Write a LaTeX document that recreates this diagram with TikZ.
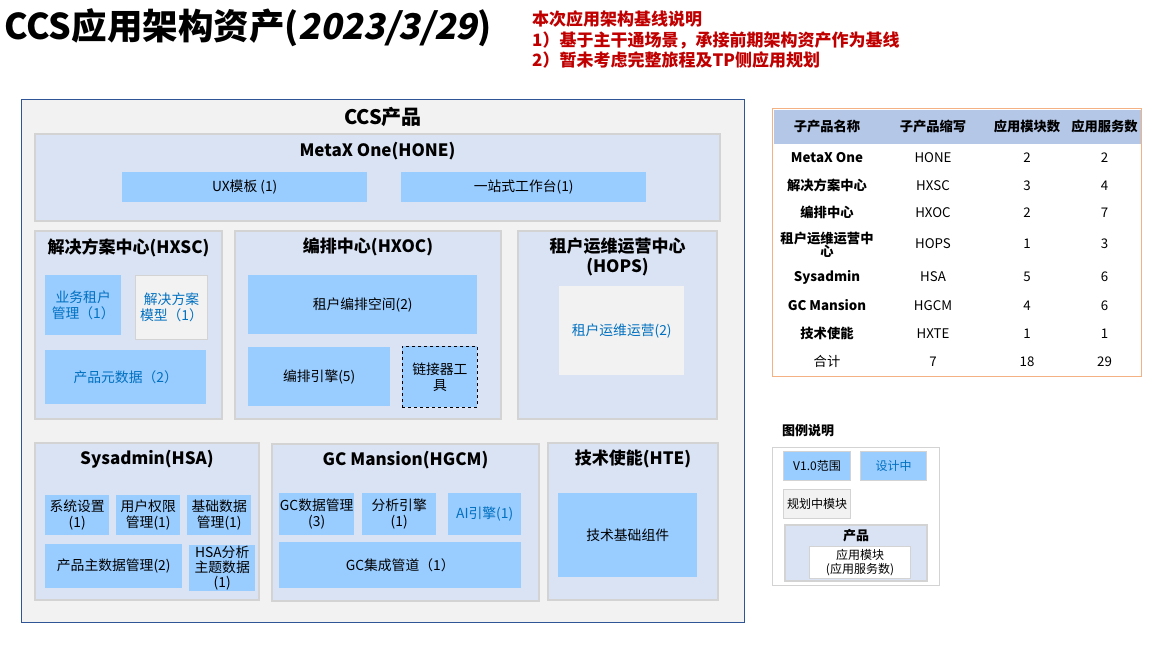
\documentclass[tikz,border=0pt]{standalone}
\usepackage{fontspec}
\setmainfont{Noto Sans CJK SC}
\newfontfamily\slantfont{Noto Sans CJK SC}[FakeSlant=0.2]
\usetikzlibrary{matrix,positioning}

\definecolor{prodfill}{HTML}{DAE3F3}
\definecolor{prodline}{HTML}{D3D3D3}
\definecolor{modblue}{HTML}{99CCFF}
\definecolor{planfill}{HTML}{F2F2F2}
\definecolor{designblue}{HTML}{0070C0}
\definecolor{ccsline}{HTML}{2F5597}
\definecolor{tabline}{HTML}{F4B183}
\definecolor{headfill}{HTML}{B4C7E7}
\definecolor{notered}{HTML}{C00000}

\begin{document}
\begin{tikzpicture}[
	x=1pt,y=-1pt,
	wh/.style 2 args={
		minimum width=#1,
		minimum height=#2
	},
	prod/.style={
		draw=prodline,
		line width=2pt,
		fill=prodfill,
		anchor=north west,
		inner sep=0pt
	},
	prodtitle/.style={
		font=\fontsize{17}{20}\selectfont\bfseries,
		align=center,
		inner sep=0pt
	},
	mod/.style={
		fill=modblue,
		anchor=north west,
		inner sep=0pt,
		align=center,
		font=\fontsize{13.8}{16}\selectfont
	},
	design/.style={
		mod,
		text=designblue
	},
	plan/.style={
		mod,
		fill=planfill,
		draw=prodline,
		line width=1pt
	},
	boldcell/.style={
		font=\fontsize{13.3}{15}\selectfont\bfseries
	},
	normcell/.style={
		font=\fontsize{13.3}{15}\selectfont
	},
	tab/.style={
		matrix of nodes,
		draw=tabline,
		line width=1pt,
		inner sep=1pt,
		column sep=0pt,
		row sep=0pt,
		nodes={
			inner sep=0pt,
			minimum height=27.5pt,
			normcell
		},
		column 1/.style={nodes={minimum width=107pt,boldcell}},
		column 2/.style={nodes={minimum width=105pt}},
		column 3/.style={nodes={minimum width=83pt}},
		column 4/.style={nodes={minimum width=72pt}},
		row 1/.style={nodes={fill=headfill,minimum height=34pt,boldcell}}
	}
	]
	\useasboundingbox (0,0) rectangle (1152,650);
	% title and notes
	\node[anchor=west,inner sep=0pt,font=\fontsize{35.5}{40}\selectfont\bfseries] (title) at (4,28)
		{CCS应用架构资产({\slantfont\bfseries 2023/3/29})};
	\node[anchor=north west,inner sep=0pt,align=left,text=notered,
		font=\fontsize{17}{20.5}\selectfont\bfseries] (notes) at (532,11)
		{本次应用架构基线说明\\1）基于主干通场景，承接前期架构资产作为基线\\2）暂未考虑完整旅程及TP侧应用规划};

	% CCS product frame
	\node[draw=ccsline,fill=planfill,line width=1pt,anchor=north west,wh={723}{523}] (ccs) at (21,99) {};
	\node[prodtitle,font=\fontsize{20}{24}\selectfont\bfseries,below=8pt of ccs.north] (ccs-t) {CCS产品};

	% MetaX One
	\node[prod,wh={685}{87}] (hone) at (34,133) {};
	\node[prodtitle,below=9pt of hone.north] (hone-t) {MetaX One(HONE)};
	\node[mod,wh={245}{30}] (uxtpl) at (122,172) {UX模板 (1)};
	\node[mod,wh={245}{30}] (workbench) at (401,172) {一站式工作台(1)};

	% second row
	\node[prod,wh={187}{188}] (hxsc) at (34,230) {};
	\node[prodtitle,below=8pt of hxsc.north] (hxsc-t) {解决方案中心(HXSC)};
	\node[design,wh={76}{60}] (tenantmgmt) at (45,275) {业务租户\\管理（1）};
	\node[plan,text=designblue,wh={72}{64}] (solmodel) at (135,275) {解决方案\\模型（1）};
	\node[design,wh={161}{54}] (metadata) at (45,350) {产品元数据（2）};

	\node[prod,wh={266}{188}] (hxoc) at (234,230) {};
	\node[prodtitle,below=8pt of hxoc.north] (hxoc-t) {编排中心(HXOC)};
	\node[mod,wh={229}{59}] (orchspace) at (248,275) {租户编排空间(2)};
	\node[mod,wh={142}{59}] (orchengine) at (248,347) {编排引擎(5)};
	\node[mod,draw=black,dashed,line width=0.8pt,wh={75}{61}] (connector) at (402,346) {链接器工\\具};

	\node[prod,wh={199}{188}] (hops) at (517,230) {};
	\node[prodtitle,below=8pt of hops.north] (hops-t) {租户运维运营中心\\(HOPS)};
	\node[mod,fill=planfill,text=designblue,wh={125}{89}] (tenantops) at (559,286) {租户运维运营(2)};

	% third row
	\node[prod,wh={224}{157}] (hsa) at (34,442) {};
	\node[prodtitle,below=8pt of hsa.north] (hsa-t) {Sysadmin(HSA)};
	\node[mod,wh={64}{40}] (syscfg) at (45,495) {系统设置\\(1)};
	\node[mod,wh={64}{40}] (userperm) at (116,495) {用户权限\\管理(1)};
	\node[mod,wh={64}{40}] (basedata) at (187,495) {基础数据\\管理(1)};
	\node[mod,wh={137}{44}] (masterdata) at (45,544) {产品主数据管理(2)};
	\node[mod,font=\fontsize{13.8}{15}\selectfont,wh={66}{46}] (hsatopic) at (189,545) {HSA分析\\主题数据\\(1)};

	\node[prod,wh={267}{157}] (hgcm) at (271,443) {};
	\node[prodtitle,below=8pt of hgcm.north] (hgcm-t) {GC Mansion(HGCM)};
	\node[mod,wh={75}{42}] (gcdata) at (279,493) {GC数据管理\\(3)};
	\node[mod,wh={74}{42}] (anaengine) at (362,493) {分析引擎\\(1)};
	\node[design,wh={73}{42}] (aiengine) at (448,493) {AI引擎(1)};
	\node[mod,wh={242}{46}] (gcpipe) at (279,542) {GC集成管道（1）};

	\node[prod,wh={170}{157}] (hte) at (547,442) {};
	\node[prodtitle,below=8pt of hte.north] (hte-t) {技术使能(HTE)};
	\node[mod,wh={139}{84}] (techbase) at (558,493) {技术基础组件};

	% summary table
	\matrix[tab,anchor=north west] (tab) at (772,108)
	{
		子产品名称 & 子产品缩写 & 应用模块数 & 应用服务数 \\
		MetaX One & HONE & 2 & 2 \\
		解决方案中心 & HXSC & 3 & 4 \\
		编排中心 & HXOC & 2 & 7 \\
		|[minimum height=36pt]| \parbox{104pt}{\centering 租户运维运营中\\[-2pt]心} & HOPS & 1 & 3 \\
		Sysadmin & HSA & 5 & 6 \\
		GC Mansion & HGCM & 4 & 6 \\
		技术使能 & HXTE & 1 & 1 \\
		|[normcell]| 合计 & 7 & 18 & 29 \\
	};

	% legend
	\node[anchor=west,inner sep=0pt,font=\fontsize{13}{15}\selectfont\bfseries] (legend-t) at (782,431) {图例说明};
	\node[draw=prodline,line width=1pt,fill=white,anchor=north west,wh={167}{138}] (legend) at (772,447) {};
	\node[mod,draw=prodline,line width=1pt,font=\fontsize{12}{14}\selectfont,wh={67}{29}] (lg-v1) at (783,451) {V1.0范围};
	\node[design,draw=prodline,line width=1pt,font=\fontsize{12}{14}\selectfont,wh={66}{29}] (lg-design) at (860,451) {设计中};
	\node[plan,font=\fontsize{12}{14}\selectfont,wh={67}{29}] (lg-plan) at (783,489) {规划中模块};
	\node[prod,wh={142}{56}] (lg-prod) at (784,524) {};
	\node[prodtitle,font=\fontsize{13}{15}\selectfont\bfseries,below=5pt of lg-prod.north] (lg-prod-t) {产品};
	\node[draw=prodline,line width=1pt,fill=white,anchor=north west,inner sep=0pt,align=center,
		font=\fontsize{12}{14}\selectfont,wh={101}{32}] (lg-app) at (809,546) {应用模块\\(应用服务数)};
\end{tikzpicture}
\end{document}
